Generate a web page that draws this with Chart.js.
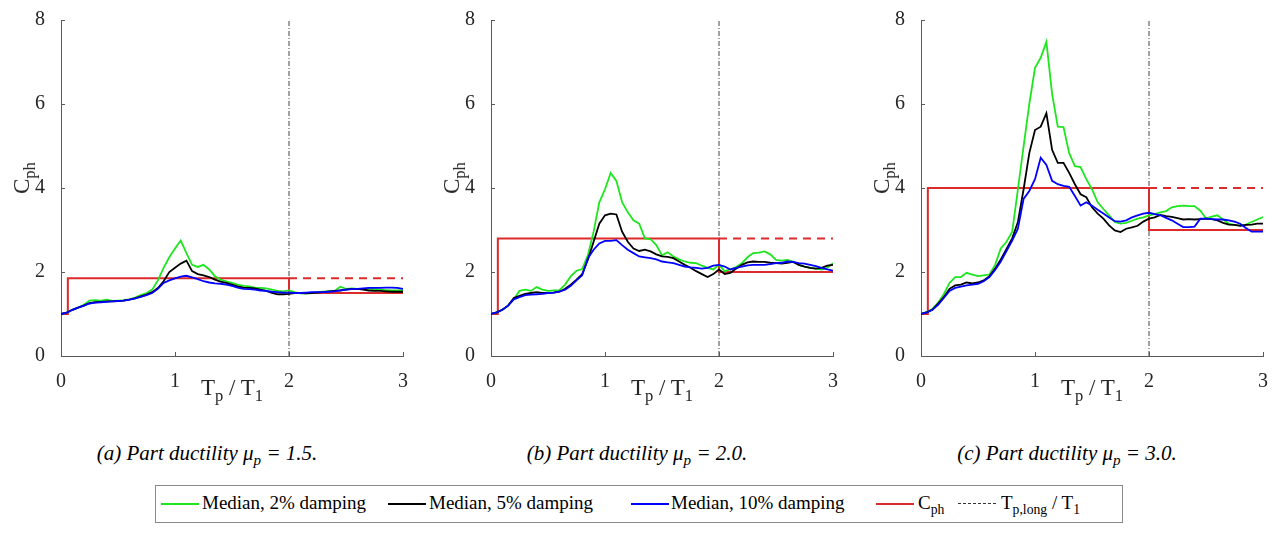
<!DOCTYPE html>
<html>
<head>
<meta charset="utf-8">
<script src="https://cdn.jsdelivr.net/npm/chart.js@4.4.0/dist/chart.umd.min.js"></script>
<style>
  html, body { margin:0; padding:0; background:#fff; overflow:hidden; width:1274px; height:540px; }
  body { position:relative; font-family:"Liberation Serif","Tinos","DejaVu Serif",serif; color:#262626; }
  canvas { position:absolute; top:0; }
  .xl { position:absolute; font-size:23px; white-space:nowrap; transform:translateX(-50%); top:375px; }
  .yl { position:absolute; font-size:23px; white-space:nowrap; transform:translate(-50%,-50%) rotate(-90deg); }
  .cap { position:absolute; font-size:21px; font-style:italic; white-space:nowrap; transform:translateX(-50%); top:441px; color:#000; }
  sub { font-size:0.72em; vertical-align:-0.35em; line-height:0; }
  #legend { position:absolute; left:155px; top:485px; width:966px; height:36px; border:1px solid #8a8a8a; background:#fff; }
  .li { position:absolute; top:6px; font-size:19px; white-space:nowrap; color:#000; }
  .ln { position:absolute; top:17px; height:0; }
</style>
</head>
<body>
<canvas id="c1" width="420" height="400" style="left:0px"></canvas>
<canvas id="c2" width="420" height="400" style="left:430px"></canvas>
<canvas id="c3" width="420" height="400" style="left:860px"></canvas>

<div class="xl" style="left:232px">T<sub>p</sub> / T<sub>1</sub></div>
<div class="xl" style="left:662px">T<sub>p</sub> / T<sub>1</sub></div>
<div class="xl" style="left:1092px">T<sub>p</sub> / T<sub>1</sub></div>

<div class="yl" style="left:22px; top:178px">C<sub>ph</sub></div>
<div class="yl" style="left:452px; top:178px">C<sub>ph</sub></div>
<div class="yl" style="left:882px; top:178px">C<sub>ph</sub></div>

<div class="cap" style="left:207px">(a) Part ductility μ<sub>p</sub> = 1.5.</div>
<div class="cap" style="left:637px">(b) Part ductility μ<sub>p</sub> = 2.0.</div>
<div class="cap" style="left:1067px">(c) Part ductility μ<sub>p</sub> = 3.0.</div>

<div id="legend">
  <div class="ln" style="left:5px; width:38px; border-top:2px solid #1ee61e;"></div>
  <div class="li" style="left:46px">Median, 2% damping</div>
  <div class="ln" style="left:232px; width:38px; border-top:2px solid #000;"></div>
  <div class="li" style="left:273px">Median, 5% damping</div>
  <div class="ln" style="left:475px; width:38px; border-top:2px solid #0000ff;"></div>
  <div class="li" style="left:515px">Median, 10% damping</div>
  <div class="ln" style="left:720px; width:38px; border-top:2px solid #dd2a2a;"></div>
  <div class="li" style="left:762px">C<sub>ph</sub></div>
  <div class="ln" style="left:802px; width:38px; border-top:1px dashed #333;"></div>
  <div class="li" style="left:845px">T<sub>p,long</sub> / T<sub>1</sub></div>
</div>

<script>
// ---- data ----
const T_RATIO = [0,0.05,0.1,0.15,0.2,0.25,0.3,0.35,0.4,0.45,0.5,0.55,0.6,0.65,0.7,0.75,0.8,0.85,0.9,0.95,
  1.0,1.05,1.1,1.15,1.2,1.25,1.3,1.35,1.4,1.45,1.5,1.55,1.6,1.65,1.7,1.75,1.8,1.85,1.9,1.95,
  2.0,2.05,2.1,2.15,2.2,2.25,2.3,2.35,2.4,2.45,2.5,2.55,2.6,2.65,2.7,2.75,2.8,2.85,2.9,2.95,3.0];

// mu_p = 1.5
const green15 = [1.0,1.03,1.1,1.15,1.22,1.32,1.33,1.32,1.34,1.31,1.32,1.33,1.35,1.39,1.45,1.5,1.58,1.8,2.1,2.35,
  2.56,2.75,2.45,2.17,2.12,2.17,2.06,1.9,1.82,1.78,1.74,1.7,1.67,1.66,1.63,1.62,1.61,1.58,1.55,1.54,
  1.56,1.52,1.49,1.49,1.5,1.52,1.53,1.54,1.55,1.65,1.6,1.61,1.6,1.6,1.6,1.59,1.58,1.57,1.56,1.56,1.57];
const black15 = [1.0,1.03,1.1,1.15,1.2,1.26,1.28,1.29,1.3,1.3,1.31,1.32,1.34,1.37,1.42,1.46,1.52,1.62,1.78,2.0,
  2.1,2.2,2.27,2.02,1.95,1.92,1.88,1.82,1.77,1.74,1.7,1.66,1.63,1.62,1.61,1.58,1.55,1.5,1.47,1.47,
  1.48,1.5,1.5,1.49,1.5,1.51,1.52,1.54,1.55,1.56,1.58,1.6,1.6,1.58,1.56,1.55,1.55,1.54,1.53,1.53,1.53];
const blue15 = [1.0,1.03,1.1,1.15,1.2,1.25,1.27,1.28,1.29,1.3,1.31,1.32,1.34,1.37,1.41,1.45,1.5,1.6,1.74,1.8,
  1.85,1.89,1.91,1.87,1.83,1.78,1.75,1.73,1.72,1.7,1.67,1.63,1.6,1.59,1.58,1.56,1.55,1.53,1.52,1.51,
  1.51,1.5,1.5,1.51,1.52,1.52,1.52,1.53,1.54,1.56,1.58,1.59,1.6,1.61,1.62,1.62,1.62,1.63,1.63,1.62,1.6];

// mu_p = 2.0
const green20 = [1.0,1.04,1.1,1.2,1.35,1.55,1.58,1.55,1.64,1.58,1.55,1.56,1.57,1.7,1.9,2.03,2.07,2.4,2.96,3.66,
  3.97,4.36,4.17,3.66,3.42,3.23,3.15,2.8,2.78,2.64,2.4,2.47,2.37,2.3,2.25,2.22,2.21,2.15,2.1,2.06,
  2.17,2.02,2.06,2.12,2.21,2.35,2.45,2.46,2.49,2.42,2.29,2.27,2.29,2.25,2.17,2.13,2.1,2.08,2.06,2.1,2.21];
const black20 = [1.0,1.04,1.1,1.2,1.38,1.43,1.48,1.5,1.52,1.5,1.5,1.51,1.53,1.6,1.7,1.82,1.95,2.29,2.72,3.15,
  3.35,3.39,3.37,2.96,2.72,2.56,2.5,2.53,2.49,2.42,2.37,2.36,2.33,2.25,2.17,2.1,2.02,1.95,1.88,1.95,
  2.06,1.95,1.98,2.08,2.17,2.23,2.25,2.24,2.24,2.22,2.21,2.2,2.22,2.24,2.17,2.13,2.1,2.08,2.1,2.15,2.17];
const blue20 = [1.0,1.04,1.1,1.2,1.35,1.4,1.45,1.46,1.47,1.48,1.5,1.51,1.53,1.58,1.67,1.8,1.92,2.33,2.53,2.68,
  2.74,2.74,2.76,2.64,2.53,2.45,2.37,2.35,2.33,2.3,2.25,2.23,2.21,2.17,2.13,2.11,2.1,2.08,2.1,2.15,
  2.17,2.13,2.06,2.1,2.13,2.16,2.17,2.17,2.17,2.19,2.21,2.22,2.25,2.24,2.21,2.2,2.17,2.14,2.1,2.06,2.03];

// mu_p = 3.0
const green30 = [1.0,1.05,1.12,1.27,1.47,1.74,1.88,1.88,1.98,1.94,1.9,1.92,1.94,2.17,2.56,2.72,2.96,3.97,4.99,6.0,
  6.86,7.1,7.48,6.24,5.46,5.45,4.83,4.52,4.5,4.21,3.97,3.66,3.5,3.35,3.19,3.15,3.17,3.22,3.27,3.3,
  3.35,3.38,3.42,3.45,3.54,3.57,3.58,3.57,3.57,3.46,3.28,3.32,3.35,3.25,3.15,3.12,3.11,3.13,3.19,3.25,3.31];
const black30 = [1.0,1.04,1.1,1.25,1.4,1.6,1.68,1.7,1.75,1.73,1.75,1.8,1.9,2.08,2.3,2.55,2.8,3.19,3.97,4.83,
  5.38,5.46,5.78,4.91,4.6,4.6,4.36,4.09,3.85,3.78,3.54,3.39,3.27,3.11,2.99,2.95,3.03,3.06,3.1,3.2,
  3.27,3.3,3.36,3.33,3.31,3.28,3.25,3.26,3.25,3.26,3.27,3.26,3.23,3.17,3.13,3.12,3.1,3.12,3.13,3.15,3.15];
const blue30 = [1.0,1.04,1.1,1.22,1.38,1.55,1.62,1.65,1.68,1.7,1.72,1.78,1.88,2.05,2.25,2.5,2.75,3.03,3.74,3.93,
  4.21,4.72,4.55,4.17,4.09,4.05,4.03,3.81,3.58,3.66,3.58,3.48,3.39,3.3,3.21,3.2,3.23,3.3,3.35,3.39,
  3.41,3.38,3.35,3.29,3.23,3.15,3.07,3.07,3.08,3.27,3.27,3.26,3.25,3.25,3.23,3.2,3.15,3.05,2.96,2.96,2.96];

// C_ph design values
const CPH_START = 1.0;
const CPH_STEP_AT = 0.06;
const CPH_SHORT = [1.85, 2.8, 4.0];
const CPH_LONG = [1.5, 2.0, 3.0];
const T_LONG = 2.0;

const Y_TICKS = [0, 2, 4, 6, 8];
const X_TICKS = [0, 1, 2, 3];

const PANELS = [
  { id:'c1', g:green15, k:black15, b:blue15, s:CPH_SHORT[0], l:CPH_LONG[0] },
  { id:'c2', g:green20, k:black20, b:blue20, s:CPH_SHORT[1], l:CPH_LONG[1] },
  { id:'c3', g:green30, k:black30, b:blue30, s:CPH_SHORT[2], l:CPH_LONG[2] },
];

const AXIS_COLOR = '#5a5a5a';
const TICK_FONT = { family:'"Liberation Serif", "Tinos", "DejaVu Serif", serif', size:20 };

const inwardTicks = {
  id:'inwardTicks',
  afterDraw(chart) {
    const ctx = chart.ctx, x = chart.scales.x, y = chart.scales.y, a = chart.chartArea;
    ctx.save();
    ctx.strokeStyle = AXIS_COLOR; ctx.lineWidth = 1;
    ctx.beginPath();
    X_TICKS.forEach(v => { const px = Math.round(x.getPixelForValue(v)) + 0.5; ctx.moveTo(px, a.bottom); ctx.lineTo(px, a.bottom - 4); });
    Y_TICKS.forEach(v => { const py = Math.round(y.getPixelForValue(v)) + 0.5; ctx.moveTo(a.left, py); ctx.lineTo(a.left + 4, py); });
    ctx.stroke();
    ctx.restore();
  }
};

function pts(arr) { return T_RATIO.map((t, i) => ({ x:t, y:arr[i] })); }

PANELS.forEach(p => {
  const step = [
    {x:0, y:CPH_START}, {x:CPH_STEP_AT, y:CPH_START}, {x:CPH_STEP_AT, y:p.s},
    {x:T_LONG, y:p.s}, {x:T_LONG, y:p.l}, {x:3, y:p.l}
  ];
  new Chart(document.getElementById(p.id), {
    type:'line',
    data:{ datasets:[
      { label:'Median, 10% damping', data:pts(p.b), borderColor:'#0000ff', borderWidth:1.8, pointRadius:0, order:1 },
      { label:'Median, 5% damping', data:pts(p.k), borderColor:'#000000', borderWidth:1.8, pointRadius:0, order:2 },
      { label:'Median, 2% damping', data:pts(p.g), borderColor:'#1ee61e', borderWidth:1.8, pointRadius:0, order:3 },
      { label:'C_ph', data:step, borderColor:'#dd2a2a', borderWidth:2, pointRadius:0, order:4 },
      { label:'C_ph ext', data:[{x:T_LONG, y:p.s},{x:3, y:p.s}], borderColor:'#dd2a2a', borderWidth:2, borderDash:[8,6], pointRadius:0, order:5 },
      { label:'Tp,long/T1', data:[{x:T_LONG, y:0},{x:T_LONG, y:8}], borderColor:'#444', borderWidth:1, borderDash:[5,2,1,2], pointRadius:0, order:6 },
    ]},
    options:{
      responsive:false, animation:false, devicePixelRatio:1,
      layout:{ padding:{ left:0, right:17, top:15, bottom:0 } },
      plugins:{ legend:{display:false}, tooltip:{enabled:false} },
      elements:{ line:{ tension:0 } },
      scales:{
        x:{ type:'linear', min:0, max:3,
            afterFit(s){ s.height = 44; },
            afterBuildTicks(s){ s.ticks = X_TICKS.map(v => ({value:v})); },
            grid:{ display:false }, border:{ display:true, color:AXIS_COLOR, width:1 },
            ticks:{ font:TICK_FONT, color:'#262626', padding:6, maxRotation:0 } },
        y:{ type:'linear', min:0, max:8,
            afterFit(s){ s.width = 61; },
            afterBuildTicks(s){ s.ticks = Y_TICKS.map(v => ({value:v})); },
            grid:{ display:false }, border:{ display:true, color:AXIS_COLOR, width:1 },
            ticks:{ font:TICK_FONT, color:'#262626', padding:8 } }
      }
    },
    plugins:[inwardTicks]
  });
});
</script>
</body>
</html>
